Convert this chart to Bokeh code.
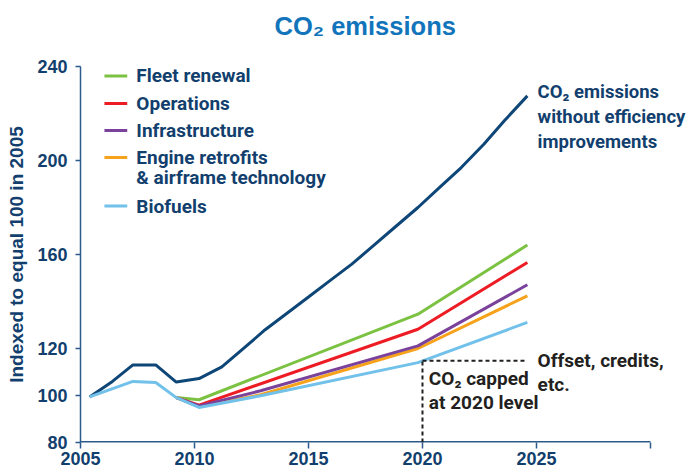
from bokeh.plotting import figure
from bokeh.models import Label, Range1d, Title
from bokeh.embed import file_html
from bokeh.resources import INLINE

# ---- data ----
base_years = [2005.4, 2006.4, 2007.3, 2008.3, 2009.2, 2010.2, 2011.2, 2012.1, 2013.1, 2014.0,
              2015.0, 2016.0, 2016.9, 2017.9, 2018.8, 2019.8, 2020.8, 2021.7, 2022.7, 2023.6, 2024.6]
base_vals = [99.4, 106.0, 113.0, 113.0, 105.7, 107.2, 112.2, 119.6, 128.0, 134.6,
             141.9, 149.3, 155.9, 164.2, 171.7, 180.0, 189.0, 197.0, 207.0, 217.0, 227.5]

bio_years = [2005.4, 2007.3, 2008.3, 2009.2, 2010.2, 2012.9, 2019.8, 2024.6]
bio_vals = [99.4, 106.0, 105.5, 99.1, 94.9, 99.9, 114.0, 131.1]

fleet_years = [2009.2, 2010.2, 2019.8, 2024.6]
fleet_vals = [99.1, 98.2, 134.6, 164.0]

ops_years = [2009.2, 2010.2, 2019.8, 2024.6]
ops_vals = [99.1, 95.9, 128.2, 156.6]

infra_years = [2009.2, 2010.2, 2012.9, 2019.8, 2024.6]
infra_vals = [99.1, 95.6, 102.0, 121.1, 147.1]

engine_years = [2009.2, 2010.2, 2012.9, 2019.8, 2024.6]
engine_vals = [99.1, 95.3, 100.3, 120.0, 142.4]

cap_year = 2020
cap_value = 114.8
cap_end_year = 2024.6

x_ticks = [2005, 2010, 2015, 2020, 2025, 2030]
y_ticks = [80, 100, 120, 160, 200, 240]

legend_names = ["Fleet renewal", "Operations", "Infrastructure",
                "Engine retrofits\n& airframe technology", "Biofuels"]

# ---- styles ----
NAVY = "#0d4677"
TEXT = "#123f6e"
AXIS = "#2a5b8c"
GREEN = "#7cc242"
RED = "#ed1c24"
PURPLE = "#7a429a"
ORANGE = "#f7a21b"
LBLUE = "#71c1ea"
BLACK = "#231f20"
NARROW = "Roboto"
SANS = "Liberation Sans"

X_END = 2031.58   # frame continues right of the axis so the side notes fit

p = figure(frame_width=606, frame_height=376, output_backend="svg", toolbar_location=None,
           x_range=Range1d(2005, X_END), y_range=Range1d(80, 240),
           min_border_left=80, min_border_right=0, min_border_top=63, min_border_bottom=0)
p.outline_line_color = None
p.xgrid.visible = False
p.ygrid.visible = False

# spacer between frame and title
p.add_layout(Title(text=" ", text_font_size="1px", standoff=15), "above")

p.title.text = "CO\u2082 emissions"
p.title.align = "left"
p.title.offset = 194
p.title.text_font = SANS
p.title.text_font_style = "bold"
p.title.text_font_size = "25.5px"
p.title.text_color = "#1275bb"
p.title.standoff = 18

for ax in (p.xaxis, p.yaxis):
    ax.axis_line_color = AXIS
    ax.axis_line_width = 1.5
    ax.major_tick_line_color = AXIS
    ax.major_tick_line_width = 1.5
    ax.minor_tick_line_color = None
    ax.major_tick_in = 0
    ax.major_label_text_font = SANS
    ax.major_label_text_font_style = "bold"
    ax.major_label_text_font_size = "18px"
    ax.major_label_text_color = TEXT

p.xaxis.ticker = x_ticks
p.xaxis.major_label_overrides = {2030: ""}
p.xaxis.major_tick_out = 6
p.xaxis.major_label_standoff = 3
p.xaxis.axis_line_color = None

p.yaxis.ticker = y_ticks
p.yaxis.major_tick_out = 5
p.yaxis.major_label_standoff = 8
p.yaxis.axis_label = "Indexed to equal 100 in 2005"
p.yaxis.axis_label_text_font = SANS
p.yaxis.axis_label_text_font_style = "bold"
p.yaxis.axis_label_text_font_size = "19px"
p.yaxis.axis_label_text_color = TEXT
p.yaxis.axis_label_standoff = 7

# x axis line only up to the last tick (half of it is clipped by the frame)
p.segment(x0=[x_ticks[0]], y0=[y_ticks[0]], x1=[x_ticks[-1]], y1=[y_ticks[0]],
          line_color=AXIS, line_width=3)

LW = 3
p.line(base_years, base_vals, line_color=NAVY, line_width=LW)
p.line(fleet_years, fleet_vals, line_color=GREEN, line_width=LW)
p.line(ops_years, ops_vals, line_color=RED, line_width=LW)
p.line(engine_years, engine_vals, line_color=ORANGE, line_width=LW)
p.line(infra_years, infra_vals, line_color=PURPLE, line_width=LW)
p.line(bio_years, bio_vals, line_color=LBLUE, line_width=LW)

# cap annotation (dashed)
p.segment(x0=[cap_year], y0=[80], x1=[cap_year], y1=[cap_value],
          line_color=BLACK, line_width=2, line_dash="4 3")
p.segment(x0=[cap_year], y0=[cap_value], x1=[cap_end_year], y1=[cap_value],
          line_color=BLACK, line_width=2, line_dash="4 3")

# manual legend
legend_colors = [GREEN, RED, PURPLE, ORANGE, LBLUE]
legend_y = [236.0, 224.3, 212.8, 201.3, 180.6]
for name, col, y in zip(legend_names, legend_colors, legend_y):
    p.line([2006.05, 2007.05], [y, y], line_color=col, line_width=LW)
    for k, part in enumerate(name.split("\n")):
        p.add_layout(Label(x=2007.45, y=y - k * 8.7, text=part, text_font=NARROW,
                           text_font_style="bold", text_font_size="19px",
                           text_color=TEXT, text_baseline="middle"))

def note(x, y, txt, color, size="19px"):
    p.add_layout(Label(x=x, y=y, text=txt, text_font=NARROW, text_font_style="bold",
                       text_font_size=size, text_color=color, text_baseline="middle"))

note(2025.05, 229.1, "CO\u2082 emissions", TEXT, "18.5px")
note(2025.05, 218.3, "without efficiency", TEXT, "18.5px")
note(2025.05, 207.9, "improvements", TEXT, "18.5px")
note(2025.05, 114.7, "Offset, credits,", BLACK)
note(2025.05, 104.7, "etc.", BLACK)
note(2020.28, 107.2, "CO\u2082 capped", BLACK)
note(2020.28, 97.0, "at 2020 level", BLACK)

open("out.html", "w").write(file_html(p, INLINE))
